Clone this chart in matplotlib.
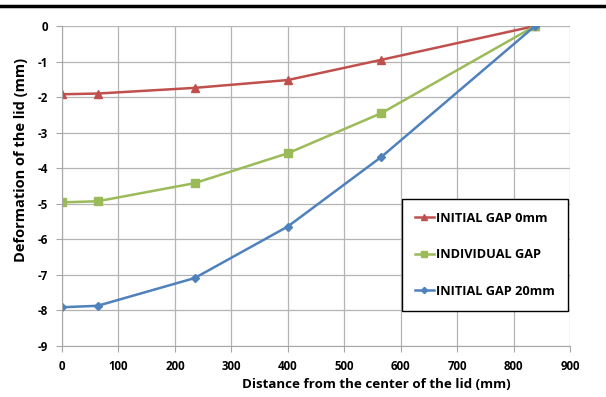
import matplotlib.pyplot as plt
from matplotlib.lines import Line2D

# distance from lid centre (mm) and lid deformation (mm)
distance = [0, 63, 235, 400, 566, 838]
gap_0mm = [-1.92, -1.90, -1.74, -1.52, -0.95, 0]
individual_gap = [-4.96, -4.93, -4.42, -3.58, -2.45, 0]
gap_20mm = [-7.91, -7.87, -7.09, -5.64, -3.68, 0]

plt.rcParams['font.family'] = 'Open Sans'
plt.rcParams['font.weight'] = 'bold'
plt.rcParams['axes.labelweight'] = 'bold'

fig = plt.figure(figsize=(6.06, 3.97), dpi=100)
ax = fig.add_axes([0.1023, 0.1285, 0.8383, 0.806])

ax.plot(distance, gap_0mm, color='#C0504D', marker='^', markersize=6, lw=1.8,
        label='INITIAL GAP 0mm')
ax.plot(distance, individual_gap, color='#9BBB59', marker='s', markersize=5.5, lw=1.8,
        label='INDIVIDUAL GAP')
ax.plot(distance, gap_20mm, color='#4F81BD', marker='D', markersize=4, lw=1.8,
        label='INITIAL GAP 20mm')

ax.set_xlim(0, 900)
ax.set_ylim(-9, 0)
ax.set_xticks(range(0, 901, 100))
ax.set_yticks(range(-9, 1))
ax.set_yticklabels([str(v) for v in range(-9, 1)])
ax.grid(True, color='#b4b4b4', lw=0.9)
ax.set_axisbelow(True)
for side in ['top', 'right']:
    ax.spines[side].set_visible(False)
for side in ['left', 'bottom']:
    ax.spines[side].set_color('#a6a6a6')
ax.tick_params(length=4, color='#a6a6a6', labelsize=8.3, pad=6)

ax.set_xlabel('Distance from the center of the lid (mm)', fontsize=9.6)
ax.set_ylabel('Deformation of the lid (mm)', fontsize=10.5)
ax.xaxis.set_label_coords(0.618, -0.10)
ax.yaxis.set_label_coords(-0.066, 0.58)

leg = ax.legend(loc='upper left', bbox_to_anchor=(0.669, 0.46), fontsize=9.2,
                frameon=True, fancybox=False, framealpha=1, edgecolor='black',
                handlelength=1.5, handletextpad=0.2, labelspacing=1.85,
                borderpad=1.0, borderaxespad=0, markerscale=0.8)
leg.get_frame().set_linewidth(1)

# rule across the top of the page
fig.add_artist(Line2D([0, 1], [0.985, 0.985], color='black', lw=2.5,
                      transform=fig.transFigure))

fig.savefig('out.png', dpi=100)
